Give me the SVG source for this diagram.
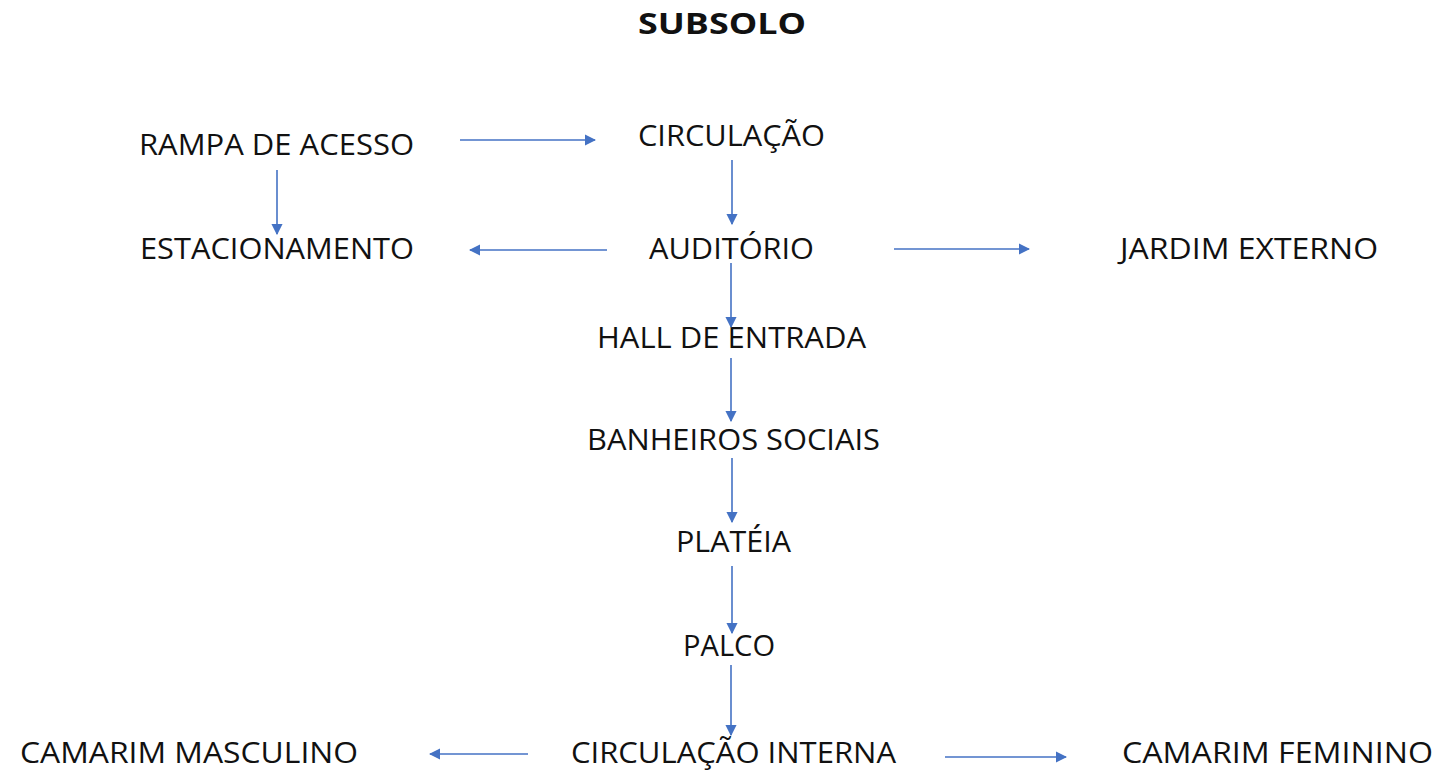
<svg xmlns="http://www.w3.org/2000/svg" width="1443" height="773" viewBox="0 0 1443 773">
<style>
text{font-family:"Open Sans","Noto Sans","DejaVu Sans",sans-serif;font-size:29px;fill:#111}
.t{font-weight:bold}
.c{stroke:#4472C4;stroke-width:1.6;fill:none;marker-end:url(#ah)}
</style>
<defs>
<marker id="ah" viewBox="0 0 10 10" refX="9" refY="5" markerWidth="7" markerHeight="7" markerUnits="strokeWidth" orient="auto">
<path d="M0,0 L10,5 L0,10 Z" fill="#4472C4"/>
</marker>
</defs>
<rect width="1443" height="773" fill="#fff"/>
<g id="title"><text class="t" x="638" y="34" textLength="168" lengthAdjust="spacingAndGlyphs">SUBSOLO</text></g>
<g id="rampa"><text x="139" y="155" textLength="275" lengthAdjust="spacingAndGlyphs">RAMPA DE ACESSO</text></g>
<g id="circulacao"><text x="638" y="146" textLength="187" lengthAdjust="spacingAndGlyphs">CIRCULAÇÃO</text></g>
<g id="estacionamento"><text x="140" y="259" textLength="274" lengthAdjust="spacingAndGlyphs">ESTACIONAMENTO</text></g>
<g id="auditorio"><text x="649" y="259" textLength="165" lengthAdjust="spacingAndGlyphs">AUDITÓRIO</text></g>
<g id="jardim"><text x="1120" y="259" textLength="258" lengthAdjust="spacingAndGlyphs">JARDIM EXTERNO</text></g>
<g id="hall"><text x="597" y="348" textLength="269" lengthAdjust="spacingAndGlyphs">HALL DE ENTRADA</text></g>
<g id="banheiros"><text x="587" y="450" textLength="293" lengthAdjust="spacingAndGlyphs">BANHEIROS SOCIAIS</text></g>
<g id="plateia"><text x="676" y="552" textLength="115" lengthAdjust="spacingAndGlyphs">PLATÉIA</text></g>
<g id="palco"><text x="683" y="656" textLength="92" lengthAdjust="spacingAndGlyphs">PALCO</text></g>
<g id="camarim-masculino"><text x="20" y="763" textLength="338" lengthAdjust="spacingAndGlyphs">CAMARIM MASCULINO</text></g>
<g id="circulacao-interna"><text x="571" y="763" textLength="325" lengthAdjust="spacingAndGlyphs">CIRCULAÇÃO INTERNA</text></g>
<g id="camarim-feminino"><text x="1122" y="763" textLength="311" lengthAdjust="spacingAndGlyphs">CAMARIM FEMININO</text></g>
<g id="connectors">
<line class="c" x1="460" y1="140" x2="595" y2="140"/>
<line class="c" x1="277" y1="170" x2="277" y2="234"/>
<line class="c" x1="732" y1="160" x2="732" y2="224"/>
<line class="c" x1="607" y1="250" x2="470" y2="250"/>
<line class="c" x1="894" y1="249" x2="1029" y2="249"/>
<line class="c" x1="731" y1="263" x2="731" y2="327"/>
<line class="c" x1="731" y1="358" x2="731" y2="421"/>
<line class="c" x1="732" y1="458" x2="732" y2="522"/>
<line class="c" x1="732" y1="566" x2="732" y2="633"/>
<line class="c" x1="731" y1="665" x2="731" y2="735"/>
<line class="c" x1="528" y1="754" x2="430" y2="754"/>
<line class="c" x1="945" y1="757" x2="1066" y2="757"/>
</g>
</svg>
